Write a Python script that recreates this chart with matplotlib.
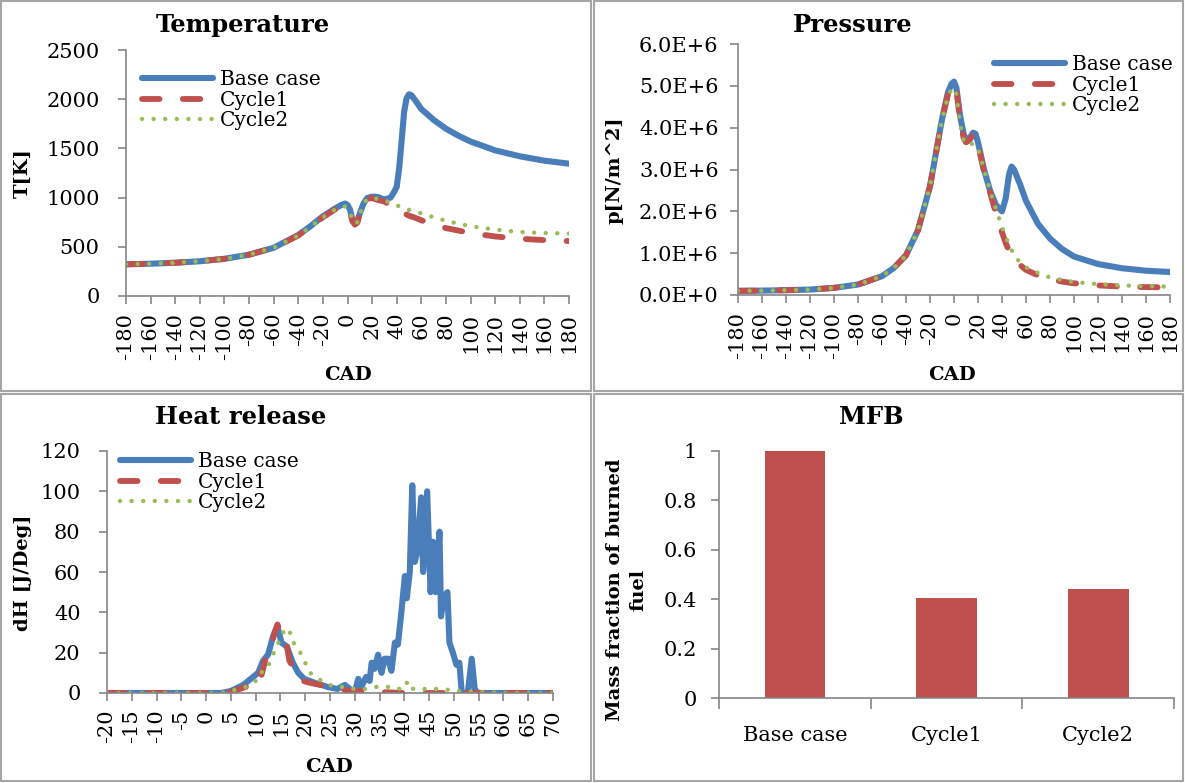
import matplotlib
matplotlib.use('Agg')
import matplotlib.pyplot as plt
from matplotlib.patches import Rectangle
from matplotlib.ticker import FuncFormatter

plt.rcParams['font.family'] = ['DejaVu Serif', 'Liberation Serif']
plt.rcParams['axes.unicode_minus'] = False

# Series names / colours
names = ['Base case', 'Cycle1', 'Cycle2']
colors = ['#4a7ebb', '#c0504d', '#9bbb59']

# Temperature [K] vs CAD
t_cad = [-180, -160, -140, -120, -100, -80, -60, -40, -30, -20, -10, -5, -2, 0, 2, 4, 6, 8, 10, 13, 16,
         20, 25, 30, 35, 38, 40, 42, 44, 46, 48, 50, 52, 55, 60, 70, 80, 90, 100, 120, 140, 160, 180]
t_base = [322, 328, 338, 353, 378, 420, 490, 620, 710, 810, 890, 925, 940, 925, 880, 775, 738, 760, 840, 940, 995,
          1010, 1005, 980, 1000, 1060, 1110, 1300, 1580, 1870, 2010, 2050, 2040, 1990, 1900, 1790, 1700, 1630, 1570,
          1480, 1420, 1375, 1345]
t_cyc1 = [322, 328, 338, 353, 378, 420, 490, 615, 705, 800, 880, 910, 915, 895, 850, 760, 725, 745, 830, 935, 985,
          995, 975, 960, 920, 890, 870, 860, 850, 840, 828, 815, 808, 795, 770, 725, 690, 665, 640,
          605, 582, 568, 558]
t_cyc2 = [322, 328, 338, 353, 378, 420, 490, 615, 705, 800, 880, 905, 910, 890, 850, 770, 735, 750, 830, 935, 985,
          995, 985, 975, 945, 930, 920, 912, 905, 895, 885, 875, 868, 860, 840, 800, 765, 735, 710,
          675, 650, 640, 635]

# Pressure [N/m^2] vs CAD (values in 1E+6)
p_cad = [-180, -160, -140, -120, -100, -80, -60, -50, -40, -30, -20, -15, -10, -5, -2, 0, 2, 5, 8, 10, 13, 16, 18,
         20, 25, 30, 35, 40, 43, 46, 48, 50, 55, 60, 70, 80, 90, 100, 120, 140, 160, 180]
p_base = [0.10, 0.105, 0.115, 0.13, 0.17, 0.25, 0.45, 0.65, 0.95, 1.55, 2.6, 3.4, 4.2, 4.85, 5.05, 5.1, 4.95, 4.3,
          3.85, 3.7, 3.75, 3.88, 3.85, 3.65, 3.0, 2.5, 2.15, 2.0, 2.3, 2.9, 3.07, 3.0, 2.65, 2.25, 1.7, 1.35, 1.1,
          0.92, 0.74, 0.64, 0.58, 0.55]
p_cyc1 = [0.10, 0.105, 0.115, 0.13, 0.17, 0.25, 0.45, 0.65, 0.95, 1.55, 2.6, 3.4, 4.2, 4.8, 5.0, 5.05, 4.9, 4.2,
          3.75, 3.65, 3.7, 3.85, 3.82, 3.6, 2.95, 2.45, 1.95, 1.5, 1.25, 1.05, 0.95, 0.87, 0.72, 0.6, 0.47, 0.38,
          0.32, 0.28, 0.23, 0.2, 0.19, 0.18]
p_cyc2 = [0.10, 0.105, 0.115, 0.13, 0.17, 0.25, 0.45, 0.65, 0.95, 1.55, 2.6, 3.4, 4.2, 4.75, 4.92, 4.95, 4.8, 4.1,
          3.7, 3.6, 3.6, 3.62, 3.55, 3.5, 3.0, 2.5, 2.05, 1.62, 1.4, 1.2, 1.08, 0.95, 0.78, 0.66, 0.53, 0.42,
          0.36, 0.31, 0.26, 0.23, 0.21, 0.2]

# Heat release dH [J/Deg] vs CAD
h_cad_base = [-20, 3, 5, 7.5, 9.5, 10.5, 11.5, 12.5, 13.5, 14.4, 15.2, 16.3, 17.5, 18.6, 19.8, 22, 24.5, 26.5, 28,
              29, 30, 30.7, 31.3, 32.3, 33, 33.4, 34, 34.7, 35.4, 36, 36.7, 37.4, 38.1, 38.7, 39.4, 40.1, 40.5,
              41.1, 41.6, 42.1, 42.6, 43.4, 43.8, 44.6, 45.3, 45.8, 46.3, 47.1, 47.4, 48.0, 48.7, 49.1, 49.8, 50.5,
              51.1, 51.6, 52.8, 53.6, 54.2, 54.8, 70]
h_base = [0, 0, 1, 4, 8, 10, 16, 19, 28, 33, 25, 23, 15, 10, 7, 5, 3, 2, 4,
          2, 0.5, 7, 3, 8, 6, 15, 12, 19, 10, 17, 17, 11, 25, 24, 40, 58, 47,
          60, 103, 65, 70, 97, 60, 100, 50, 75, 50, 80, 38, 48, 50, 25, 20, 14,
          15, 0, 0, 17, 2, 0, 0]
h_cad_cyc1 = [-20, 3, 5, 8, 9.8, 10.5, 11.2, 12, 13, 13.8, 14.4, 15, 16, 16.8, 17.5, 18.3, 19.5, 21, 23, 25, 27,
              29, 32, 35, 40, 70]
h_cyc1 = [0, 0, 0.5, 3, 10, 11, 9, 17, 21, 30, 34, 29, 28, 16, 13, 8, 6, 5, 4, 3, 2,
          1, 1, 0.5, 0, 0]
h_cad_cyc2 = [-20, 3, 5, 8, 10, 10.8, 12, 13, 14, 15, 15.5, 16.2, 16.8, 17.2, 18, 19, 20, 21, 22, 24, 26, 28, 30,
              32, 34, 36, 38, 39.5, 40.8, 41.8, 44, 46, 48, 50, 55, 60, 70]
h_cyc2 = [0, 0, 1, 3, 6, 10, 11, 16, 22, 27, 30, 31, 32, 26, 24, 20, 15, 10, 8, 5, 3, 3, 2,
          2, 3, 3, 3, 1.5, 6, 2, 2, 2, 2, 1, 0.5, 0, 0]

# Mass fraction of burned fuel
mfb = [1.0, 0.405, 0.44]

W, H = 1185, 783
fig = plt.figure(figsize=(W / 100, H / 100), dpi=100)


def fx(px):
    return px / W


def fy(py):
    return 1 - py / H


def box(x0, y0, x1, y1):
    return [fx(x0), fy(y1), fx(x1) - fx(x0), fy(y0) - fy(y1)]


def style(ax):
    for s in ['top', 'right']:
        ax.spines[s].set_visible(False)
    for s in ['left', 'bottom']:
        ax.spines[s].set_color('#868686')
        ax.spines[s].set_linewidth(1.2)
    ax.tick_params(axis='both', direction='out', length=6, width=1.2, color='#868686', labelsize=15)
    ax.tick_params(axis='y', pad=13)
    ax.tick_params(axis='x', pad=6)


def three_lines(ax, xs, ys):
    ax.plot(xs[0], ys[0], color=colors[0], lw=4.4, solid_capstyle='round', solid_joinstyle='round', label=names[0])
    ax.plot(xs[1], ys[1], color=colors[1], lw=4.2, dashes=(3.0, 4.0), dash_capstyle='round', label=names[1])
    ax.plot(xs[2], ys[2], color=colors[2], lw=3.2, dashes=(0.01, 2.6), dash_capstyle='round', label=names[2])


def legend(ax, x, y):
    ax.legend(loc='upper left', bbox_to_anchor=(fx(x), fy(y)), bbox_transform=fig.transFigure, frameon=False,
              fontsize=14.5, borderpad=0, handlelength=3.55, handletextpad=0.3, labelspacing=0.08, borderaxespad=0)


# panel frames
for (x0, y0, x1, y1) in [(1, 1, 591, 391), (594, 1, 1183, 391), (1, 394, 591, 781), (594, 394, 1183, 781)]:
    fig.add_artist(Rectangle((fx(x0), fy(y1)), fx(x1) - fx(x0), fy(y0) - fy(y1), transform=fig.transFigure,
                             fill=False, ec='#a6a6a6', lw=1.5))

# Temperature
ax1 = fig.add_axes(box(126, 50, 569, 296))
three_lines(ax1, [t_cad] * 3, [t_base, t_cyc1, t_cyc2])
ax1.set_xlim(-180, 180)
ax1.set_ylim(0, 2500)
ax1.set_xticks(range(-180, 181, 20))
ax1.set_yticks(range(0, 2501, 500))
ax1.tick_params(axis='x', labelrotation=90)
style(ax1)
legend(ax1, 142, 70)
fig.text(fx(243), fy(25), 'Temperature', ha='center', va='center', fontsize=17.5, fontweight='bold')
fig.text(fx(23), fy(173), 'T[K]', ha='center', va='center', rotation=90, fontsize=14, fontweight='bold')
fig.text(fx(348), fy(375), 'CAD', ha='center', va='center', fontsize=14, fontweight='bold')

# Pressure
ax2 = fig.add_axes(box(738, 44, 1170, 295))
three_lines(ax2, [p_cad] * 3, [[v * 1e6 for v in p_base], [v * 1e6 for v in p_cyc1], [v * 1e6 for v in p_cyc2]])
ax2.set_xlim(-180, 180)
ax2.set_ylim(0, 6e6)
ax2.set_xticks(range(-180, 181, 20))
ax2.set_yticks([i * 1e6 for i in range(7)])
ax2.yaxis.set_major_formatter(FuncFormatter(lambda v, p: '0.0E+0' if v == 0 else '%.1fE+6' % (v / 1e6)))
ax2.tick_params(axis='x', labelrotation=90)
style(ax2)
ax2.tick_params(axis='y', pad=8)
legend(ax2, 994, 55)
fig.text(fx(853), fy(25), 'Pressure', ha='center', va='center', fontsize=17.5, fontweight='bold')
fig.text(fx(614), fy(170), 'p[N/m^2]', ha='center', va='center', rotation=90, fontsize=14, fontweight='bold')
fig.text(fx(952), fy(375), 'CAD', ha='center', va='center', fontsize=14, fontweight='bold')

# Heat release
ax3 = fig.add_axes(box(107, 451, 553, 693))
three_lines(ax3, [h_cad_base, h_cad_cyc1, h_cad_cyc2], [h_base, h_cyc1, h_cyc2])
ax3.set_xlim(-20, 70)
ax3.set_ylim(0, 120)
ax3.set_xticks(range(-20, 71, 5))
ax3.set_yticks(range(0, 121, 20))
ax3.tick_params(axis='x', labelrotation=90)
style(ax3)
legend(ax3, 120, 452)
fig.text(fx(241), fy(417), 'Heat release', ha='center', va='center', fontsize=17.5, fontweight='bold')
fig.text(fx(23), fy(573), 'dH [J/Deg]', ha='center', va='center', rotation=90, fontsize=14, fontweight='bold')
fig.text(fx(329), fy(767), 'CAD', ha='center', va='center', fontsize=14, fontweight='bold')

# MFB
ax4 = fig.add_axes(box(719, 451, 1174, 698))
ax4.bar(range(len(names)), mfb, width=0.4, color=colors[1])
ax4.set_xlim(-0.5, 2.5)
ax4.set_ylim(0, 1)
ax4.set_yticks([0, 0.2, 0.4, 0.6, 0.8, 1])
ax4.set_yticklabels(['0', '0.2', '0.4', '0.6', '0.8', '1'])
ax4.set_xticks(range(len(names)))
ax4.set_xticklabels(names)
ax4.set_xticks([-0.5, 0.5, 1.5, 2.5], minor=True)
style(ax4)
ax4.tick_params(axis='y', pad=10)
ax4.tick_params(axis='x', which='major', length=0, pad=20)
ax4.tick_params(axis='x', which='minor', length=8, width=1.2, color='#868686')
fig.text(fx(871), fy(417), 'MFB', ha='center', va='center', fontsize=17.5, fontweight='bold')
fig.text(fx(627), fy(590), 'Mass fraction of burned\nfuel', ha='center', va='center', rotation=90,
         fontsize=14, fontweight='bold', linespacing=1.4, multialignment='center')

fig.savefig('out.png', dpi=100)
